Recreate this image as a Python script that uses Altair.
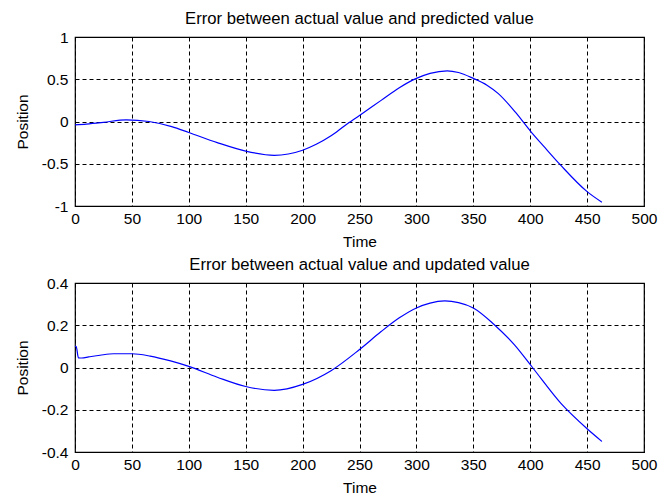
import altair as alt
import pandas as pd

# Error between actual value and predicted value
t_pred = [0, 10, 25, 45, 65, 85, 100, 125, 150, 175, 200, 212, 225, 237, 250, 269, 285, 300, 312, 327, 337, 350, 362, 372, 387, 400, 413, 427, 450, 463]
e_pred = [-0.04, -0.03, -0.01, 0.02, 0.0, -0.06, -0.13, -0.25, -0.35, -0.40, -0.34, -0.27, -0.17, -0.05, 0.07, 0.25, 0.40, 0.51, 0.57, 0.60, 0.58, 0.51, 0.43, 0.33, 0.11, -0.11, -0.31, -0.52, -0.83, -0.955]

# Error between actual value and updated value
t_upd = [0, 1, 3, 6, 12, 22, 34, 50, 66, 84, 100, 125, 150, 175, 200, 225, 250, 269, 285, 300, 312, 325, 337, 350, 368, 386, 402, 427, 450, 463]
e_upd = [0.10, 0.10, 0.046, 0.045, 0.05, 0.058, 0.065, 0.065, 0.054, 0.031, 0.005, -0.046, -0.09, -0.108, -0.08, -0.015, 0.085, 0.17, 0.235, 0.282, 0.305, 0.315, 0.307, 0.282, 0.205, 0.108, 0.0, -0.17, -0.29, -0.35]

x_ticks = [0, 50, 100, 150, 200, 250, 300, 350, 400, 450, 500]
y_ticks_top = [-1, -0.5, 0, 0.5, 1]
y_ticks_bot = [-0.4, -0.2, 0, 0.2, 0.4]

FONT = "Liberation Sans"
W, H = 569, 169


def panel(t, e, title, yticks):
    df = pd.DataFrame({"Time": t, "Position": e})
    return alt.Chart(df, title=alt.Title(title)).mark_line(
        color="#0000ff", strokeWidth=1.2, interpolate="monotone", clip=True
    ).encode(
        x=alt.X("Time:Q", scale=alt.Scale(domain=[0, 500], nice=False, zero=False),
                axis=alt.Axis(values=x_ticks, title="Time")),
        y=alt.Y("Position:Q", scale=alt.Scale(domain=[yticks[0], yticks[-1]], nice=False, zero=False),
                axis=alt.Axis(values=yticks, title="Position")),
    ).properties(width=W, height=H)


top = panel(t_pred, e_pred, "Error between actual value and predicted value", y_ticks_top)
bot = panel(t_upd, e_upd, "Error between actual value and updated value", y_ticks_bot)

chart = alt.vconcat(top, bot, spacing=5).properties(
    padding={"left": 6, "top": 2, "right": 5, "bottom": 0}
).configure(
    background="white"
).configure_view(
    stroke="black", strokeWidth=1.2
).configure_axis(
    labelFont=FONT, labelFontSize=15.5, labelColor="black",
    titleFont=FONT, titleFontSize=15.5, titleColor="black", titleFontWeight="normal",
    domain=False, ticks=False, labelPadding=5, labelFlush=False, labelOverlap=False,
    grid=True, gridColor="black", gridDash=[4, 3], gridOpacity=1, gridWidth=1,
    labelExpr="'' + datum.value",
).configure_axisY(
    titlePadding=11, labelPadding=7,
).configure_axisX(
    titlePadding=8,
).configure_title(
    font=FONT, fontSize=16.7, fontWeight="normal", color="black", offset=2,
)

chart.save("out.html", embed_options={"renderer": "svg", "actions": False})
